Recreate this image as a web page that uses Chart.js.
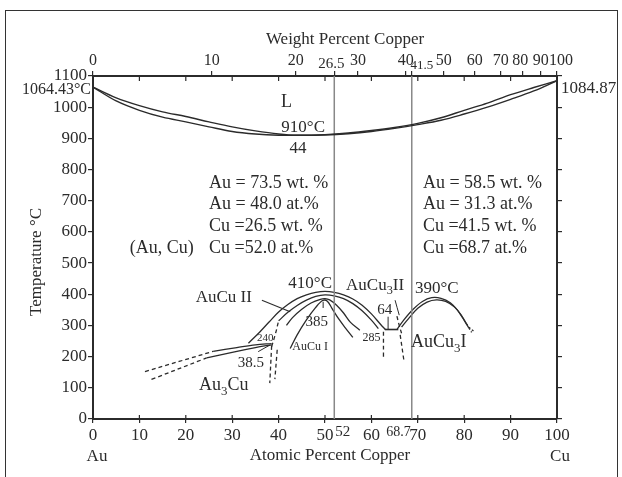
<!DOCTYPE html>
<html>
<head>
<meta charset="utf-8">
<script src="https://cdn.jsdelivr.net/npm/chart.js@4"></script>
<style>
body { margin: 0; background: #fff; }
#frame { position: absolute; left: 5px; top: 10px; width: 611px; height: 480px; border: 1.5px solid #333; }
#c { position: absolute; left: 0; top: 0; }
</style>
</head>
<body>
<div id="frame"></div>
<canvas id="c" width="622" height="477"></canvas>
<script>
// axes
var atomicTicks = [0, 10, 20, 30, 40, 50, 60, 70, 80, 90, 100];
var tempTicks = [0, 100, 200, 300, 400, 500, 600, 700, 800, 900, 1000, 1100];
var weightLabels = ['0', '10', '20', '26.5', '30', '40', '41.5', '50', '60', '70', '80', '90', '100'];
var weightAtPos = [0, 25.6, 43.7, 52, 57.1, 67.4, 68.7, 75.6, 82.3, 87.9, 92.5, 96.5, 100];

// liquidus / solidus
var meltX = [0, 5, 10, 15, 20, 25, 30, 35, 40, 44, 50, 55, 60, 65, 70, 75, 80, 85, 90, 95, 100];
var liquidusT = [1064.43, 1030, 1005, 985, 970, 953, 937, 924, 914, 910, 912, 917, 925, 935, 948, 966, 990, 1013, 1040, 1063, 1084.87];
var solidusT = [1064.43, 1020, 990, 968, 953, 937, 922, 914, 910, 910, 911, 915, 922, 932, 944, 958, 978, 1000, 1025, 1052, 1084.87];

// vertical composition lines
var alloyA = 52;
var alloyB = 68.7;

// AuCu dome
var auCuOuterX = [33.5, 36, 38, 40, 42, 44, 46, 48, 50, 52, 54, 56, 58, 60, 62, 63];
var auCuOuterT = [243, 280, 312, 343, 367, 386, 398, 406, 409, 406, 398, 385, 365, 337, 303, 287];
var auCuInnerX = [40, 42, 44, 46, 48, 50, 52, 54, 56, 58, 60, 61.5];
var auCuInnerT = [315, 342, 364, 381, 393, 398, 395, 386, 370, 347, 317, 290];
var auCuDashX = [38.5, 39.3, 40];
var auCuDashT = [232, 272, 315];
var auCuMidX = [41.7, 43, 45, 47, 49, 50, 51, 52.5, 54, 55.5, 57.5];
var auCuMidT = [300, 325, 352, 372, 384, 386, 382, 365, 340, 310, 285];
var auCuIX = [42.5, 44, 46, 48, 49.5, 50.5, 51.5, 53, 54.5, 56];
var auCuIT = [226, 270, 318, 358, 380, 378, 355, 320, 290, 262];

// Au3Cu
var au3CuSolid1X = [25.9, 31, 35, 38.5];
var au3CuSolid1T = [217, 229, 238, 242];
var au3CuSolid2X = [24.5, 30, 35, 38.5];
var au3CuSolid2T = [196, 214, 229, 238];
var au3CuDash1X = [11.2, 25.9];
var au3CuDash1T = [152, 217];
var au3CuDash2X = [12.6, 24.5];
var au3CuDash2T = [127, 196];
var au3CuVert1X = [38.5, 38.1];
var au3CuVert1T = [235, 115];
var au3CuVert2X = [39.7, 39.2];
var au3CuVert2T = [222, 128];

// AuCu3 dome
var auCu3Arc1X = [65.5, 67, 69, 71, 73, 75, 77, 78.5, 80, 81];
var auCu3Arc1T = [287, 318, 352, 377, 389, 387, 373, 350, 316, 292];
var auCu3Arc2X = [66.5, 68, 70, 72, 74, 76, 78, 79.5, 80.5];
var auCu3Arc2T = [295, 322, 355, 375, 382, 377, 358, 330, 305];
var auCu3End1X = [81, 81.6];
var auCu3End1T = [292, 278];
var auCu3End2X = [80.5, 81.2, 82];
var auCu3End2T = [305, 292, 282];
var auCu3FlatX = [62.9, 65.8];
var auCu3FlatT = [287, 287];
var auCu3DashX = [65.5, 66, 66.5];
var auCu3DashT = [330, 300, 275];
var auCu3Vert1X = [62.6, 62.6];
var auCu3Vert1T = [280, 198];
var auCu3Vert2X = [66.2, 67];
var auCu3Vert2T = [270, 188];

// leader lines
var leadAuCuIIX = [36.4, 42.5];
var leadAuCuIIT = [381, 344];
var lead385X = [49.6, 49.6];
var lead385T = [376, 356];
var lead38X = [35.6, 38.1];
var lead38T = [216, 237];
var lead64X = [63.6, 63.6];
var lead64T = [328, 288];
var leadAuCu3X = [65.1, 66];
var leadAuCu3T = [381, 333];

var leftNotes = ['Au = 73.5 wt. %', 'Au = 48.0 at.%', 'Cu =26.5 wt. %', 'Cu =52.0 at.%'];
var rightNotes = ['Au = 58.5 wt. %', 'Au = 31.3 at.%', 'Cu =41.5 wt. %', 'Cu =68.7 at.%'];
var noteRowsT = [757, 688, 619, 549];

var ink = '#2b2b2b';
var serif = '"Liberation Serif", "DejaVu Serif", serif';

function curve(xs, ys, dash, width) {
    return {
        data: xs.map((x, i) => ({ x: x, y: ys[i] })),
        showLine: true,
        borderColor: ink,
        borderWidth: width || 1.3,
        borderDash: dash || [],
        pointRadius: 0,
        tension: 0.35,
        fill: false
    }
}

var dashed = [4, 3];
var dotted = [2, 2];

var datasets = [
    curve(meltX, liquidusT, null, 1.4),
    curve(meltX, solidusT, null, 1.4),
    Object.assign(curve([alloyA, alloyA], [0, 1100], null, 1.5), { borderColor: '#888' }),
    Object.assign(curve([alloyB, alloyB], [0, 1100], null, 1.5), { borderColor: '#888' }),
    curve(auCuOuterX, auCuOuterT),
    curve(auCuInnerX, auCuInnerT),
    curve(auCuDashX, auCuDashT, dashed),
    curve(auCuMidX, auCuMidT),
    curve(auCuIX, auCuIT),
    curve(au3CuSolid1X, au3CuSolid1T),
    curve(au3CuSolid2X, au3CuSolid2T),
    curve(au3CuDash1X, au3CuDash1T, dashed),
    curve(au3CuDash2X, au3CuDash2T, dashed),
    curve(au3CuVert1X, au3CuVert1T, dashed),
    curve(au3CuVert2X, au3CuVert2T, dashed),
    curve(auCu3Arc1X, auCu3Arc1T),
    curve(auCu3Arc2X, auCu3Arc2T),
    curve(auCu3End1X, auCu3End1T, dotted),
    curve(auCu3End2X, auCu3End2T, dotted),
    curve(auCu3FlatX, auCu3FlatT, null, 1.6),
    curve(auCu3DashX, auCu3DashT, dashed),
    curve(auCu3Vert1X, auCu3Vert1T, dashed),
    curve(auCu3Vert2X, auCu3Vert2T, dashed),
    curve(leadAuCuIIX, leadAuCuIIT, null, 1.1),
    curve(lead385X, lead385T, null, 1),
    curve(lead38X, lead38T, null, 1),
    curve(lead64X, lead64T, null, 1),
    curve(leadAuCu3X, leadAuCu3T, null, 1)
];

// text with "_3" as subscript
function richText(ctx, str, x, y, size, align) {
    let parts = str.split(/_(\d)/)
    let w = 0
    parts.forEach((p, i) => {
        ctx.font = (i % 2 ? size * 0.72 : size) + 'px ' + serif
        w += ctx.measureText(p).width
    })
    let cx = align == 'left' ? x : align == 'right' ? x - w : x - w / 2
    ctx.textAlign = 'left'
    ctx.textBaseline = 'middle'
    parts.forEach((p, i) => {
        let sub = i % 2 == 1
        ctx.font = (sub ? size * 0.72 : size) + 'px ' + serif
        ctx.fillText(p, cx, sub ? y + size * 0.35 : y)
        cx += ctx.measureText(p).width
    })
}

var labels = [
    ['L', 41.7, 1017, 18],
    ['910°C', 45.3, 934, 17],
    ['44', 44.2, 868, 17],
    ['(Au, Cu)', 14.8, 549, 18],
    ['410°C', 46.8, 436, 17],
    ['AuCu II', 28.2, 391, 17],
    ['385', 48.2, 312, 15],
    ['AuCu I', 46.8, 232, 12],
    ['240', 37.1, 259, 11],
    ['38.5', 34, 179, 15],
    ['Au_3Cu', 28.2, 109, 18],
    ['AuCu_3II', 60.8, 429, 17],
    ['390°C', 74.1, 419, 17],
    ['64', 62.9, 349, 15],
    ['285', 60, 260, 12],
    ['AuCu_3I', 74.5, 247, 18]
];

var annot = {
    id: 'annot',
    afterDraw(chart) {
        let ctx = chart.ctx
        let xs = chart.scales.x
        let ys = chart.scales.y
        let area = chart.chartArea
        ctx.save()
        ctx.fillStyle = ink
        ctx.strokeStyle = ink
        ctx.lineWidth = 1.2

        // inner ticks on top and bottom
        atomicTicks.forEach((v) => {
            let px = xs.getPixelForValue(v)
            ctx.beginPath()
            ctx.moveTo(px, area.top)
            ctx.lineTo(px, area.top + 5)
            ctx.moveTo(px, area.bottom)
            ctx.lineTo(px, area.bottom - 4)
            ctx.stroke()
        })

        labels.forEach((l) => {
            richText(ctx, l[0], xs.getPixelForValue(l[1]), ys.getPixelForValue(l[2]), l[3], 'center')
        })

        leftNotes.forEach((t, i) => {
            richText(ctx, t, xs.getPixelForValue(25), ys.getPixelForValue(noteRowsT[i]), 18, 'left')
        })
        rightNotes.forEach((t, i) => {
            richText(ctx, t, xs.getPixelForValue(71.1), ys.getPixelForValue(noteRowsT[i]), 18, 'left')
        })

        // top weight axis labels
        weightLabels.forEach((t, i) => {
            let px = xs.getPixelForValue(weightAtPos[i])
            let size = 16, dx = 0, dy = 0
            if (t == '26.5') { size = 15; dx = -3; dy = 3 }
            if (t == '41.5') { size = 13; dx = 10; dy = 5 }
            if (t == '80') { dx = -2 }
            if (t == '100') { dx = 4 }
            richText(ctx, t, px + dx, 61 + dy, size, 'center')
        })
        richText(ctx, 'Weight Percent Copper', 345, 40, 17, 'center')

        // extra bottom labels
        richText(ctx, '52', xs.getPixelForValue(alloyA) + 1, 432, 15, 'left')
        richText(ctx, '68.7', xs.getPixelForValue(alloyB) - 1, 432, 14, 'right')
        richText(ctx, 'Atomic Percent Copper', 330, 456, 17, 'center')
        richText(ctx, 'Au', xs.getPixelForValue(0) + 4, 457, 17, 'center')
        richText(ctx, 'Cu', xs.getPixelForValue(100) + 3, 457, 17, 'center')

        // melting points
        richText(ctx, '1064.43°C', area.left - 2, ys.getPixelForValue(1064.43) + 3, 16, 'right')
        richText(ctx, '1084.87', area.right + 4, ys.getPixelForValue(1061), 17, 'left')

        // y title
        ctx.save()
        ctx.translate(37, 262)
        ctx.rotate(-Math.PI / 2)
        richText(ctx, 'Temperature °C', 0, 0, 17, 'center')
        ctx.restore()
        ctx.restore()
    }
};

var tickFont = { family: serif, size: 17 };

new Chart(document.getElementById('c'), {
    type: 'scatter',
    data: { datasets: datasets },
    plugins: [annot],
    options: {
        responsive: false,
        animation: false,
        layout: { padding: 0 },
        plugins: { legend: { display: false }, tooltip: { enabled: false } },
        scales: {
            x: {
                type: 'linear', position: 'bottom', min: 0, max: 100,
                afterBuildTicks: (s) => { s.ticks = atomicTicks.map((v) => ({ value: v })) },
                afterFit: (s) => { s.height = 58 },
                ticks: { font: tickFont, color: ink, padding: 2, maxRotation: 0, autoSkip: false, callback: (v) => String(v) },
                grid: { drawOnChartArea: false, tickLength: 4, color: ink, lineWidth: 1.2 },
                border: { color: ink, width: 2 }
            },
            xw: {
                type: 'linear', position: 'top', min: 0, max: 100,
                afterBuildTicks: (s) => { s.ticks = weightAtPos.map((v) => ({ value: v })) },
                afterFit: (s) => { s.height = 76 },
                ticks: { display: false },
                grid: { drawOnChartArea: false, tickLength: 5, color: ink, lineWidth: 1.2 },
                border: { color: ink, width: 2 }
            },
            y: {
                type: 'linear', position: 'left', min: 0, max: 1100,
                afterBuildTicks: (s) => { s.ticks = tempTicks.map((v) => ({ value: v })) },
                afterFit: (s) => { s.width = 93 },
                ticks: { font: tickFont, color: ink, padding: 1, callback: (v) => String(v) },
                grid: { drawOnChartArea: false, tickLength: 5, color: ink, lineWidth: 1.2 },
                border: { color: ink, width: 2 }
            },
            y2: {
                type: 'linear', position: 'right', min: 0, max: 1100,
                afterBuildTicks: (s) => { s.ticks = tempTicks.map((v) => ({ value: v })) },
                afterFit: (s) => { s.width = 65 },
                ticks: { display: false },
                grid: { drawOnChartArea: false, tickLength: 5, color: ink, lineWidth: 1.2 },
                border: { color: ink, width: 2 }
            }
        }
    }
});
</script>
</body>
</html>
